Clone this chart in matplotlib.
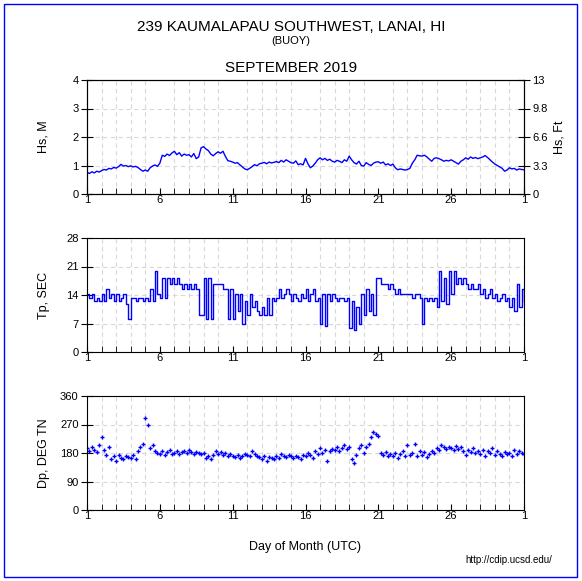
import numpy as np
import matplotlib
matplotlib.use('Agg')
import matplotlib.pyplot as plt
from matplotlib.patches import Rectangle

plt.rc('font', family=['Liberation Sans', 'DejaVu Sans'])

# 6 samples per day, Sept 1 00Z -> Oct 1 00Z
hs = [0.76, 0.72, 0.78, 0.74, 0.80, 0.77,
      0.82, 0.86, 0.84, 0.90, 0.88, 0.93,
      0.91, 0.96, 1.04, 0.98, 1.00, 0.96,
      0.99, 0.95, 0.97, 0.93, 0.86, 0.80,
      0.84, 0.80, 0.92, 0.98, 1.02, 0.97,
      1.08, 1.36, 1.32, 1.40, 1.35, 1.44,
      1.50, 1.38, 1.45, 1.33, 1.40, 1.36,
      1.38, 1.30, 1.42, 1.24, 1.30, 1.62,
      1.66, 1.58, 1.52, 1.40, 1.34, 1.42,
      1.48, 1.43, 1.50, 1.32, 1.17, 1.15,
      1.12, 1.08, 1.10, 1.02, 0.95, 0.88,
      0.85, 0.90, 0.96, 1.03, 0.99, 1.06,
      1.08, 1.11, 1.06, 1.12, 1.09, 1.11,
      1.14, 1.10, 1.18, 1.12, 1.20, 1.15,
      1.10, 1.08, 1.16, 1.03, 1.06, 1.02,
      1.25, 1.06, 0.92, 0.98, 1.08, 1.20,
      1.27, 1.20, 1.25, 1.18, 1.22, 1.15,
      1.12, 1.18, 1.15, 1.10, 1.20, 1.15,
      1.33, 1.20, 1.10, 1.05, 1.15, 1.00,
      0.98, 1.10, 1.04, 1.00, 1.08, 1.12,
      1.13, 1.08, 1.12, 1.02, 1.06, 1.00,
      1.05, 0.92, 0.85, 0.88, 0.86, 0.84,
      0.86, 0.90, 1.08, 1.20, 1.36, 1.34,
      1.33, 1.36, 1.30, 1.22, 1.15, 1.25,
      1.27, 1.24, 1.20, 1.15, 1.18, 1.16,
      1.20, 1.15, 1.10, 1.05, 1.15, 1.20,
      1.27, 1.22, 1.30, 1.25, 1.28, 1.24,
      1.27, 1.30, 1.35, 1.28, 1.20, 1.12,
      1.05, 1.00, 0.95, 0.90, 0.80, 0.84,
      0.92, 0.88, 0.90, 0.84, 0.88, 0.86,
      0.85]

tp = [14.3, 13.3, 14.3, 12.5, 13.3, 12.5,
      14.3, 12.5, 15.4, 13.3, 14.3, 12.5,
      14.3, 12.5, 13.3, 14.3, 11.8, 8.0,
      13.3, 13.3, 12.5, 13.3, 13.3, 12.5,
      13.3, 12.5, 15.4, 12.5, 20.0, 14.3,
      13.3, 18.2, 13.3, 18.2, 16.7, 18.2,
      16.7, 18.2, 16.7, 15.4, 16.7, 15.4,
      16.7, 15.4, 16.7, 15.4, 9.1, 9.1,
      18.2, 8.0, 18.2, 8.0, 16.7, 16.7,
      16.7, 16.7, 15.4, 15.4, 8.0, 15.4,
      8.0, 14.3, 10.0, 14.3, 7.0, 12.5,
      9.1, 14.3, 11.1, 12.5, 10.0, 9.1,
      11.1, 9.1, 13.3, 9.1, 13.3, 12.5,
      13.3, 15.4, 13.3, 14.3, 15.4, 14.3,
      12.5, 14.3, 13.3, 12.5, 14.3, 13.3,
      15.4, 12.5, 14.3, 15.4, 12.5, 13.3,
      7.0, 14.3, 6.5, 14.3, 12.5, 14.3,
      13.3, 12.5, 13.3, 13.3, 12.5, 13.3,
      6.0, 12.5, 5.5, 11.1, 7.0, 14.3,
      9.1, 15.4, 10.0, 14.3, 9.1, 18.2,
      18.2, 16.7, 16.7, 16.7, 15.4, 16.7,
      15.4, 14.3, 15.4, 14.3, 14.3, 14.3,
      14.3, 14.3, 13.3, 14.3, 14.3, 13.3,
      7.0, 13.3, 12.5, 13.3, 12.5, 13.3,
      11.1, 20.0, 12.5, 18.2, 11.8, 20.0,
      14.3, 20.0, 16.7, 18.2, 16.7, 18.2,
      16.7, 15.4, 16.7, 15.4, 15.4, 16.7,
      14.3, 15.4, 13.3, 14.3, 15.4, 13.3,
      14.3, 12.5, 13.3, 14.3, 12.5, 13.3,
      11.1, 13.3, 10.0, 16.7, 11.1, 15.4,
      12.5]

dp = [195, 185, 200, 190, 182, 205,
      230, 190, 175, 200, 160, 170,
      155, 175, 165, 160, 172, 168,
      165, 175, 160, 185, 200, 210,
      290, 270, 195, 205, 185, 180,
      178, 185, 175, 182, 188, 176,
      180, 185, 178, 183, 187, 180,
      188, 182, 178, 184, 180, 176,
      180, 165, 170, 160, 175, 185,
      178, 182, 175, 180, 170, 178,
      172, 168, 175, 165, 170, 178,
      175, 170, 185, 178, 172, 168,
      160, 170, 155, 168, 165, 160,
      172, 165, 178, 170, 168, 175,
      170, 165, 172, 168, 160, 175,
      170, 180, 175, 165, 185, 178,
      195, 180, 190, 155, 185, 192,
      190, 200, 185, 195, 205, 192,
      200, 160, 150, 175, 195, 205,
      180, 200, 210, 230, 245, 240,
      235, 180, 175, 182, 170, 178,
      172, 180, 165, 178, 185, 170,
      205, 175, 180, 210, 172, 185,
      175, 182, 168, 178, 185, 180,
      195, 190, 205, 198, 192, 200,
      195, 188, 202, 192, 198, 185,
      175, 190, 182, 195, 180, 186,
      178, 190, 172, 185, 180, 195,
      175, 185, 178, 170, 182, 176,
      180, 172, 190, 178, 185, 180,
      178]

day = 1 + np.arange(len(hs)) / 6.0
day_labels = ['1', '6', '11', '16', '21', '26', '1']
ft_labels = ['0', '3.3', '6.6', '9.8', '13']

fig = plt.figure(figsize=(5.82, 5.81), dpi=100)
W, H = 582.0, 581.0

def panel(top_px):
    return fig.add_axes([87 / W, 1 - (top_px + 114) / H, 437 / W, 114 / H])

def style(ax, yticks, label):
    ax.set_xlim(1, 31)
    ax.set_xticks([1, 6, 11, 16, 21, 26, 31])
    ax.set_xticklabels(day_labels)
    ax.set_xticks(np.arange(1, 32), minor=True)
    ax.set_ylim(yticks[0], yticks[-1])
    ax.set_yticks(yticks)
    ax.tick_params(axis='x', which='both', direction='in', length=4, pad=1, labelsize=8)
    ax.tick_params(axis='y', direction='inout', length=8, labelsize=8, pad=2)
    ax.grid(True, which='minor', axis='x', color='#d8d8d8', linestyle=(0, (4, 3)), linewidth=0.8)
    ax.grid(True, which='major', axis='y', color='#d8d8d8', linestyle=(0, (4, 3)), linewidth=0.8)
    ax.set_axisbelow(True)
    ax.set_ylabel(label, fontsize=9)
    ax.yaxis.set_label_coords((50 - 87) / 437, 0.5)

# wave height
ax1 = panel(80)
ax1.plot(day, hs, color='#0000ff', linewidth=1)
style(ax1, [0, 1, 2, 3, 4], 'Hs, M')
ax1r = ax1.twinx()
ax1r.set_ylim(0, 4)
ax1r.set_yticks([0, 1, 2, 3, 4])
ax1r.set_yticklabels(ft_labels)
ax1r.tick_params(axis='y', direction='inout', length=8, labelsize=8, pad=2)
ax1r.set_ylabel('Hs, Ft', fontsize=9, rotation=90)
ax1r.yaxis.set_label_coords((554 - 87) / 437, 0.5)

# peak period
ax2 = panel(238)
ax2.plot(day, tp, color='#0000ff', linewidth=1, drawstyle='steps-post')
style(ax2, [0, 7, 14, 21, 28], 'Tp, SEC')

# peak direction
ax3 = panel(396)
ax3.plot(day, dp, linestyle='none', marker='+', markersize=3.5, markeredgewidth=1, color='#0000ff')
style(ax3, [0, 90, 180, 270, 360], 'Dp, DEG TN')

fig.text(0.5, 1 - 27 / H, '239 KAUMALAPAU SOUTHWEST, LANAI, HI', ha='center', va='center', fontsize=11)
fig.text(0.5, 1 - 41 / H, '(BUOY)', ha='center', va='center', fontsize=8)
fig.text(0.5, 1 - 68 / H, 'SEPTEMBER 2019', ha='center', va='center', fontsize=11)
fig.text(305 / W, 1 - 547 / H, 'Day of Month (UTC)', ha='center', va='center', fontsize=9)
fig.text(552 / W, 1 - 560 / H, 'http://cdip.ucsd.edu/', ha='right', va='center', fontsize=7)

fig.patches.append(Rectangle((4 / W, 4 / H), 573 / W, 573 / H, transform=fig.transFigure,
                             fill=False, edgecolor='#0000ff', linewidth=1))

fig.savefig('out.png', dpi=100)
